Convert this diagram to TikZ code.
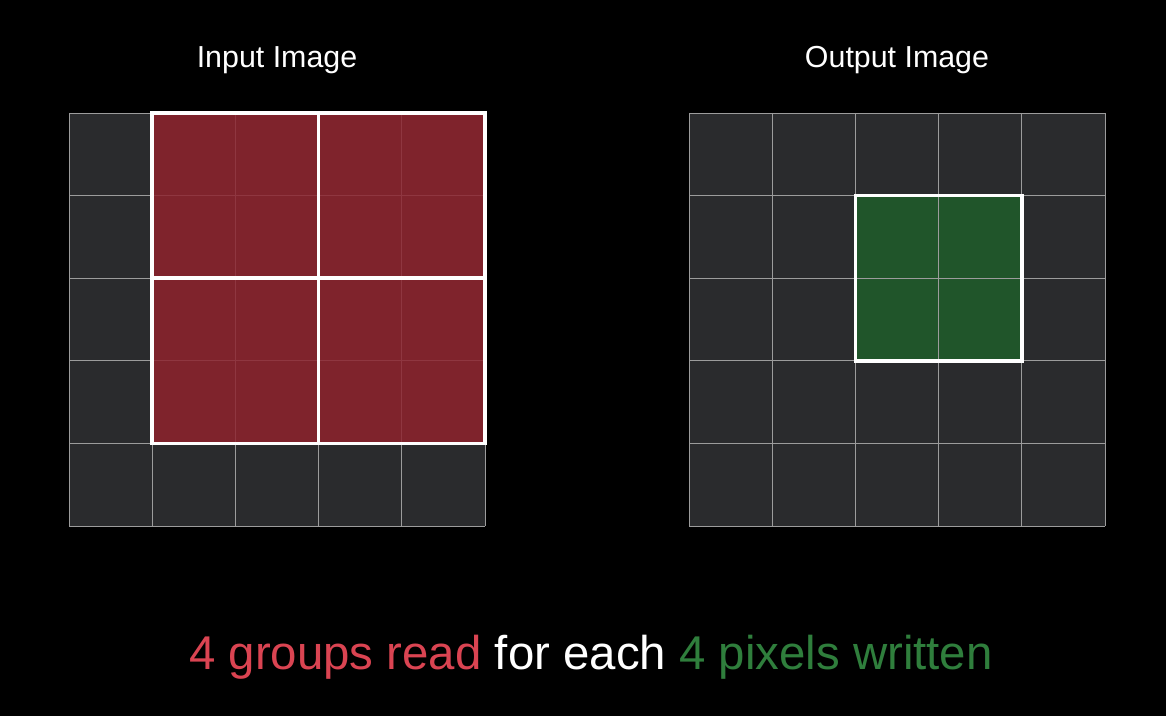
\documentclass[tikz,border=0pt]{standalone}
\usepackage{fontspec}
\setmainfont{Liberation Sans}
\usetikzlibrary{positioning}
\definecolor{cellgray}{HTML}{2A2B2D}
\definecolor{linegray}{HTML}{9C9C9C}
\definecolor{readred}{HTML}{7F232C}
\definecolor{readline}{HTML}{8F3640}
\definecolor{writegreen}{HTML}{20552A}
\definecolor{redtext}{HTML}{DA4452}
\definecolor{greentext}{HTML}{2F7E3C}
\tikzset{
	gridline/.style={linegray,line width=0.6pt},
	redline/.style={readline,line width=0.6pt},
	groupbox/.style={white,line width=2.6pt},
	title/.style={white,font=\fontsize{21.6}{26}\selectfont},
}

\begin{document}
\begin{tikzpicture}[x=0.025cm,y=-0.025cm]
	\useasboundingbox[fill=black] (0,0) rectangle (1166,716);

	%titles
	\node[title] (intitle)  at (277,60) {Input Image};
	\node[title] (outtitle) at (897,60) {Output Image};

	%input image
	\fill[cellgray] (69,113) rectangle (485,526);
	\foreach \i in {0,...,5}
		\draw[gridline] ({69+83.2*\i},113)--({69+83.2*\i},526);
	\foreach \j in {0,...,5}
		\draw[gridline] (69,{113+82.6*\j})--(485,{113+82.6*\j});
	\fill[readred] (152.2,113) rectangle (485,443.4);		%read region
	\draw[redline] (235.4,113)--(235.4,443.4);
	\draw[redline] (401.8,113)--(401.8,443.4);
	\draw[redline] (152.2,195.6)--(485,195.6);
	\draw[redline] (152.2,360.8)--(485,360.8);
	\draw[groupbox] (152.2,113) rectangle (485,443.4);		%four groups
	\draw[groupbox] (318.6,113)--(318.6,443.4);
	\draw[groupbox] (152.2,278.2)--(485,278.2);

	%output image
	\fill[cellgray] (689,113) rectangle (1105,526);
	\fill[writegreen] (855.4,195.6) rectangle (1021.8,360.8);	%written pixels
	\foreach \i in {0,...,5}
		\draw[gridline] ({689+83.2*\i},113)--({689+83.2*\i},526);
	\foreach \j in {0,...,5}
		\draw[gridline] (689,{113+82.6*\j})--(1105,{113+82.6*\j});
	\draw[groupbox] (855.4,195.6) rectangle (1021.8,360.8);

	%caption
	\node[font=\fontsize{33.7}{40}\selectfont] (caption) at (591,657)
		{\textcolor{redtext}{4 groups read} \textcolor{white}{for each} \textcolor{greentext}{4 pixels written}};
\end{tikzpicture}
\end{document}
